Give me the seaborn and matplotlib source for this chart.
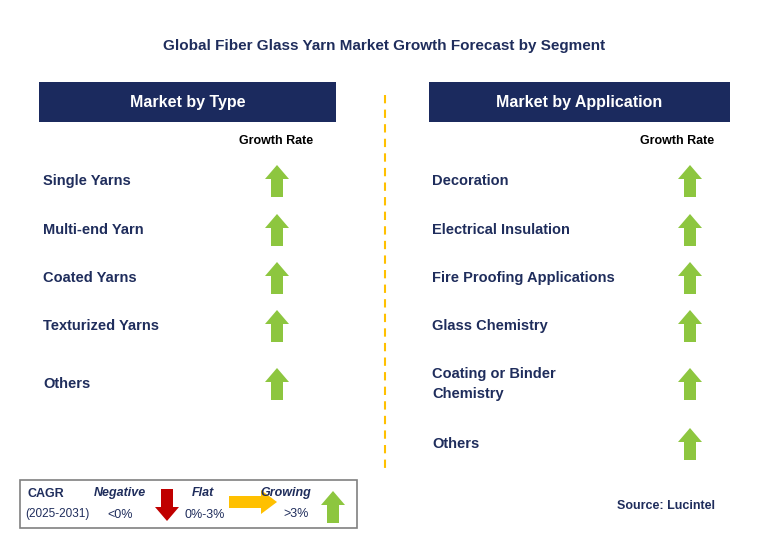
import matplotlib
matplotlib.use("Agg")
import matplotlib.pyplot as plt
import seaborn as sns
from matplotlib.patches import Rectangle, FancyArrow

sns.set_theme(style="white", font="Liberation Sans")

# data
title = "Global Fiber Glass Yarn Market Growth Forecast by Segment"
type_segments = ["Single Yarns", "Multi-end Yarn", "Coated Yarns", "Texturized Yarns", "Others"]
type_trend = ["up", "up", "up", "up", "up"]
app_segments = ["Decoration", "Electrical Insulation", "Fire Proofing Applications",
                "Glass Chemistry", "Coating or Binder\nChemistry", "Others"]
app_trend = ["up", "up", "up", "up", "up", "up"]
type_rows_y = [181, 230, 278, 326, 384]
app_rows_y = [181, 230, 278, 326, 384, 444]

NAVY = "#1B2A5E"
TXT = "#1F2D5C"
GREEN = "#8DC63F"
RED = "#C00000"
GOLD = "#FFC000"

fig = plt.figure(figsize=(7.62, 5.38), dpi=100)
ax = fig.add_axes([0, 0, 1, 1])
ax.set_xlim(0, 762)
ax.set_ylim(538, 0)
ax.axis("off")


def arrow(x, y, kind, color=None):
    if kind == "up":
        ax.add_patch(FancyArrow(x, y + 16, 0, -32, width=12, head_width=24, head_length=14,
                                length_includes_head=True, color=color or GREEN, lw=0))
    elif kind == "down":
        ax.add_patch(FancyArrow(x, y - 16, 0, 32, width=12, head_width=24, head_length=14,
                                length_includes_head=True, color=color or RED, lw=0))
    else:
        ax.add_patch(FancyArrow(x - 24, y, 48, 0, width=12, head_width=24, head_length=16,
                                length_includes_head=True, color=color or GOLD, lw=0))


ax.text(384, 46, title, ha="center", va="center", fontsize=11, fontweight="bold", color=TXT)

for x0, x1, label in [(39, 336, "Market by Type"), (429, 730, "Market by Application")]:
    ax.add_patch(Rectangle((x0, 82), x1 - x0, 40, color=NAVY, lw=0))
    ax.text((x0 + x1) / 2, 102, label, ha="center", va="center", fontsize=11.5,
            fontweight="bold", color="white")

ax.text(276, 141, "Growth Rate", ha="center", va="center", fontsize=9, fontweight="bold", color="black")
ax.text(677, 141, "Growth Rate", ha="center", va="center", fontsize=9, fontweight="bold", color="black")

for seg, tr, y in zip(type_segments, type_trend, type_rows_y):
    ax.text(43, y, seg, ha="left", va="center", fontsize=10.5, fontweight="bold", color=TXT)
    arrow(277, y, tr)

for seg, tr, y in zip(app_segments, app_trend, app_rows_y):
    ax.text(432, y, seg, ha="left", va="center", fontsize=10.5, fontweight="bold", color=TXT,
            linespacing=1.5)
    arrow(690, y, tr)

ax.plot([385, 385], [95, 470], ls=(0, (4, 3)), color=GOLD, lw=1.5)

# legend box
ax.add_patch(Rectangle((20, 480), 337, 48, fill=False, ec="#808080", lw=1.2))
ax.text(27, 494, "CAGR", fontsize=9, fontweight="bold", color=TXT, va="center")
ax.text(25, 514, "(2025-2031)", fontsize=8.5, color=TXT, va="center")
ax.text(120, 493, "Negative", fontsize=9, fontweight="bold", style="italic", color=TXT, ha="center", va="center")
ax.text(120, 515, "<0%", fontsize=9, color=TXT, ha="center", va="center")
arrow(167, 505, "down")
ax.text(203, 493, "Flat", fontsize=9, fontweight="bold", style="italic", color=TXT, ha="center", va="center")
ax.text(205, 515, "0%-3%", fontsize=9, color=TXT, ha="center", va="center")
arrow(253, 502, "flat")
ax.text(286, 493, "Growing", fontsize=9, fontweight="bold", style="italic", color=TXT, ha="center", va="center")
ax.text(296, 514, ">3%", fontsize=9, color=TXT, ha="center", va="center")
arrow(333, 507, "up")

ax.text(715, 506, "Source: Lucintel", ha="right", va="center", fontsize=9, fontweight="bold", color=TXT)

fig.savefig("out.png", dpi=100, facecolor="white")
